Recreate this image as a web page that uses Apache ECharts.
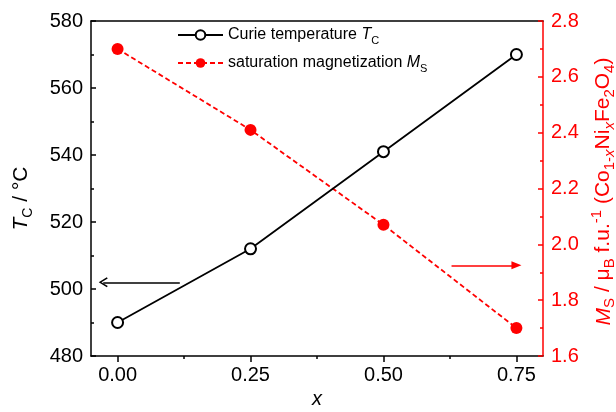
<!DOCTYPE html>
<html>
<head>
<meta charset="utf-8">
<script src="https://cdn.jsdelivr.net/npm/echarts@6/dist/echarts.min.js"></script>
<style>html,body{margin:0;padding:0;background:#fff;}#c{width:616px;height:412px;}</style>
</head>
<body>
<div id="c"></div>
<script>
const xValues = [0, 0.25, 0.5, 0.75];
const tcValues = [490, 512, 541, 570];
const msValues = [2.70, 2.41, 2.07, 1.70];
const xMajorTicks = [0, 0.25, 0.5, 0.75];
const xMinorTicks = [0.125, 0.375, 0.625];
const tcArrow = [[0.117, 502], [-0.027, 502]];
const msArrow = [[0.628, 1.925], [0.75, 1.925]];

const FONT = '"Liberation Sans", Arial, sans-serif';
const chart = echarts.init(document.getElementById('c'), null, {renderer: 'canvas'});

const redRich = {
  n: {fontFamily: FONT, fontSize: 21, color: '#ff0000', lineHeight: 28},
  i: {fontFamily: FONT, fontSize: 21, color: '#ff0000', fontStyle: 'italic', lineHeight: 28},
  sub: {fontFamily: FONT, fontSize: 15, color: '#ff0000', verticalAlign: 'bottom', lineHeight: 14},
  subi: {fontFamily: FONT, fontSize: 15, color: '#ff0000', fontStyle: 'italic', verticalAlign: 'bottom', lineHeight: 14},
  sup: {fontFamily: FONT, fontSize: 15, color: '#ff0000', verticalAlign: 'top', lineHeight: 14}
};
const blackRich = {
  n: {fontFamily: FONT, fontSize: 21, color: '#000', lineHeight: 28},
  i: {fontFamily: FONT, fontSize: 21, color: '#000', fontStyle: 'italic', lineHeight: 28},
  sub: {fontFamily: FONT, fontSize: 14, color: '#000', verticalAlign: 'bottom', lineHeight: 14}
};
const legendRich = {
  n: {fontFamily: FONT, fontSize: 16, color: '#000', lineHeight: 22},
  i: {fontFamily: FONT, fontSize: 16, color: '#000', fontStyle: 'italic', lineHeight: 22},
  sub: {fontFamily: FONT, fontSize: 11, color: '#000', verticalAlign: 'bottom', lineHeight: 11}
};

const chevron = 'path://M5,0 L10,9 L8.8,10 L5,3 L1.2,10 L0,9 Z';

const option = {
  animation: false,
  backgroundColor: '#fff',
  grid: {left: 91, right: 73, top: 21, bottom: 56, containLabel: false, outerBoundsMode: 'none'},
  legend: {
    orient: 'vertical', left: 172, top: 22, itemWidth: 45, itemHeight: 12, itemGap: 9,
    textStyle: {fontFamily: FONT, fontSize: 16, color: '#000', rich: legendRich},
    formatter: function (name) {
      if (name === 'tc') return '{n|Curie temperature }{i|T}{sub|C}';
      return '{n|saturation magnetization }{i|M}{sub|S}';
    },
    data: ['tc', 'ms']
  },
  xAxis: [
    {
      type: 'value', position: 'bottom', min: -0.05, max: 0.8,
      name: 'x', nameLocation: 'middle', nameGap: 33,
      nameTextStyle: {fontFamily: FONT, fontSize: 20, fontStyle: 'italic', color: '#000'},
      axisLine: {onZero: false, lineStyle: {color: '#000', width: 1.5}},
      axisTick: {show: true, inside: false, length: 6, customValues: xMajorTicks, lineStyle: {color: '#000', width: 1.5}},
      axisLabel: {customValues: xMajorTicks, formatter: v => v.toFixed(2), fontFamily: FONT, fontSize: 20, color: '#000', margin: 9},
      splitLine: {show: false}
    },
    {
      type: 'value', position: 'bottom', min: -0.05, max: 0.8,
      axisLine: {show: false, onZero: false},
      axisTick: {show: true, inside: false, length: 3, customValues: xMinorTicks, lineStyle: {color: '#000', width: 1.5}},
      axisLabel: {show: false},
      splitLine: {show: false}
    },
    {
      type: 'value', position: 'top', min: -0.05, max: 0.8,
      axisLine: {onZero: false, lineStyle: {color: '#000', width: 1.5}},
      axisTick: {show: false}, axisLabel: {show: false}, splitLine: {show: false}
    }
  ],
  yAxis: [
    {
      type: 'value', position: 'left', min: 480, max: 580, interval: 20,
      name: '{i|T}{sub|C}{n| / °C}', nameLocation: 'middle', nameRotate: 90, nameGap: 56,
      nameTextStyle: {rich: blackRich, padding: [0, 20, 0, 0]},
      axisLine: {show: true, onZero: false, lineStyle: {color: '#000', width: 1.5}},
      axisTick: {show: true, inside: true, length: 5, lineStyle: {color: '#000', width: 1.5}},
      minorTick: {show: true, splitNumber: 2, length: 3, lineStyle: {color: '#000', width: 1.5}},
      axisLabel: {fontFamily: FONT, fontSize: 20, color: '#000', margin: 8},
      splitLine: {show: false}
    },
    {
      type: 'value', position: 'right', min: 1.6, max: 2.8, interval: 0.2,
      name: '{i|M}{sub|S}{n| / μ}{sub|B}{n| f.u.}{sup|-1}{n| (Co}{sub|1-}{subi|x}{n|Ni}{subi|x}{n|Fe}{sub|2}{n|O}{sub|4}{n|)}',
      nameLocation: 'middle', nameRotate: 90, nameGap: 43,
      nameTextStyle: {rich: redRich, padding: [0, 6, 0, 0]},
      axisLine: {show: true, onZero: false, lineStyle: {color: '#ff0000', width: 1.5}},
      axisTick: {show: true, inside: true, length: 5, lineStyle: {color: '#ff0000', width: 1.5}},
      minorTick: {show: true, splitNumber: 2, length: 3, lineStyle: {color: '#ff0000', width: 1.5}},
      axisLabel: {formatter: v => v.toFixed(1), fontFamily: FONT, fontSize: 20, color: '#ff0000', margin: 8},
      splitLine: {show: false}
    }
  ],
  series: [
    {
      name: 'tc', type: 'line', xAxisIndex: 0, yAxisIndex: 0,
      data: xValues.map((x, i) => [x, tcValues[i]]),
      symbol: 'emptyCircle', symbolSize: 11,
      lineStyle: {color: '#000', width: 1.8},
      itemStyle: {color: '#000', borderColor: '#000', borderWidth: 1.2},
      z: 3,
      markLine: {
        silent: true, symbol: ['none', chevron], symbolSize: [10, 9], label: {show: false},
        lineStyle: {color: '#000', width: 1.5, type: 'solid'},
        data: [[{coord: tcArrow[0]}, {coord: tcArrow[1]}]]
      }
    },
    {
      name: 'ms', type: 'line', xAxisIndex: 0, yAxisIndex: 1,
      data: xValues.map((x, i) => [x, msValues[i]]),
      symbol: 'circle', symbolSize: 12,
      lineStyle: {color: '#ff0000', width: 1.8, type: [5, 3]},
      itemStyle: {color: '#ff0000'},
      z: 2,
      markLine: {
        silent: true, symbol: ['none', 'triangle'], symbolSize: [8, 10], label: {show: false},
        lineStyle: {color: '#ff0000', width: 1.5, type: 'solid'},
        data: [[{coord: msArrow[0]}, {coord: msArrow[1]}]]
      }
    }
  ]
};
chart.setOption(option);
</script>
</body>
</html>
